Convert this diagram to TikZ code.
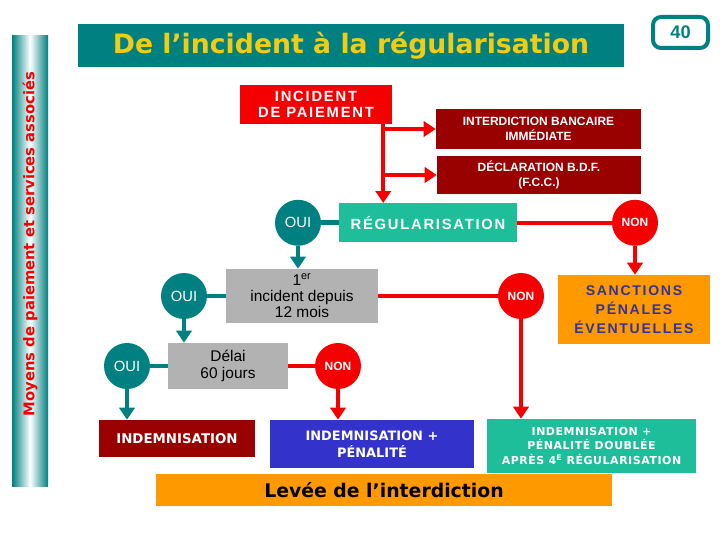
\documentclass[tikz,border=0pt]{standalone}
\usepackage{fontspec}
\setmainfont{Liberation Sans}
\newfontfamily\verd{DejaVu Sans}
\newfontfamily\espace[LetterSpace=12]{Liberation Sans}
\usetikzlibrary{arrows.meta}
\definecolor{sarcelle}{RGB}{0,128,128}
\definecolor{jaune}{RGB}{240,204,20}
\definecolor{rouge}{RGB}{245,0,0}
\definecolor{rougefonce}{RGB}{153,0,0}
\definecolor{vertd}{RGB}{30,190,155}
\definecolor{ambre}{RGB}{255,153,0}
\definecolor{indigo}{RGB}{51,51,153}
\definecolor{bleu}{RGB}{51,51,204}
\definecolor{gris}{RGB}{178,178,178}
\begin{document}
\begin{tikzpicture}
\tikzset{
    >={Triangle[length=0.3cm,width=0.38cm]},
    boite/.style={rectangle, inner sep=0pt, align=center, text=white},
    rond/.style={circle, inner sep=0pt, minimum size=1.15cm, text=white},
    oui/.style={rond, fill=sarcelle, font=\fontsize{10.5}{12}\selectfont},
    non/.style={rond, fill=rouge, font=\bfseries\fontsize{8.5}{10}\selectfont},
    lienR/.style={line width=0.1cm, rouge},
    lienV/.style={line width=0.12cm, sarcelle}
}
\useasboundingbox (0,0) rectangle (18,13.5);
\shade[left color=sarcelle, right color=sarcelle, middle color=white] (0.3,1.325) rectangle (1.2,12.6);
\node[rotate=90, text=rouge, font=\verd\bfseries\fontsize{10.5}{12}\selectfont] (cote) at (0.75,7.4) {Moyens de paiement et services associés};
\node[boite, fill=sarcelle, minimum width=13.65cm, minimum height=1.075cm, text=jaune,
      font=\verd\bfseries\fontsize{19}{22}\selectfont] (titre) at (8.775,12.3625) {De l’incident à la régularisation};
\node[boite, draw=sarcelle, fill=white, line width=0.1cm, rounded corners=0.2cm, minimum width=1.375cm,
      minimum height=0.775cm, text=sarcelle, font=\bfseries\fontsize{13}{15}\selectfont] (page) at (17.0125,12.6875) {40};
\node[boite, fill=rouge, minimum width=3.8cm, minimum height=0.975cm,
      font=\espace\bfseries\fontsize{10.5}{11.5}\selectfont] (inc) at (7.9,10.8875) {INCIDENT\\DE PAIEMENT};
\node[boite, fill=rougefonce, minimum width=5.125cm, minimum height=1cm,
      font=\bfseries\fontsize{8.5}{10.5}\selectfont] (interd) at (13.4625,10.275) {INTERDICTION BANCAIRE\\IMMÉDIATE};
\node[boite, fill=rougefonce, minimum width=5.1cm, minimum height=0.95cm,
      font=\bfseries\fontsize{8.5}{10.5}\selectfont] (decl) at (13.475,9.125) {DÉCLARATION B.D.F.\\(F.C.C.)};
\node[boite, fill=vertd, minimum width=4.45cm, minimum height=0.975cm,
      font=\espace\bfseries\fontsize{10.5}{12}\selectfont] (regul) at (10.7,7.93) {RÉGULARISATION};
\node[oui] (oui1) at (7.45,7.93) {OUI};
\node[non] (non1) at (15.875,7.93) {NON};
\node[boite, fill=ambre, minimum width=3.8cm, minimum height=1.725cm, text=indigo,
      font=\espace\bfseries\fontsize{10}{13.5}\selectfont] (sanct) at (15.85,5.7625) {SANCTIONS\\PÉNALES\\ÉVENTUELLES};
\node[boite, fill=gris, minimum width=3.8cm, minimum height=1.35cm, text=black,
      font=\fontsize{11}{11.5}\selectfont] (prem) at (7.55,6.1) {1\textsuperscript{er}\\incident depuis\\12 mois};
\node[oui] (oui2) at (4.6,6.1) {OUI};
\node[non] (non2) at (13.025,6.1) {NON};
\node[boite, fill=gris, minimum width=3cm, minimum height=1.15cm, text=black,
      font=\fontsize{11}{12.5}\selectfont] (delai) at (5.7,4.35) {Délai\\60 jours};
\node[oui] (oui3) at (3.175,4.35) {OUI};
\node[non] (non3) at (8.45,4.35) {NON};
\node[boite, fill=rougefonce, minimum width=3.9cm, minimum height=0.925cm,
      font=\verd\bfseries\fontsize{9.5}{11}\selectfont] (indem) at (4.425,2.5375) {INDEMNISATION};
\node[boite, fill=bleu, minimum width=5.1cm, minimum height=1.2cm,
      font=\verd\bfseries\fontsize{9.2}{12}\selectfont] (indpen) at (9.3,2.4) {INDEMNISATION +\\PÉNALITÉ};
\node[boite, fill=vertd, minimum width=5.225cm, minimum height=1.35cm,
      font=\verd\bfseries\addfontfeature{LetterSpace=5}\fontsize{7.8}{10}\selectfont] (doub) at (14.7875,2.35)
      {INDEMNISATION +\\PÉNALITÉ DOUBLÉE\\APRÈS 4\textsuperscript{E} RÉGULARISATION};
\node[boite, fill=ambre, minimum width=11.4cm, minimum height=0.8cm, text=black,
      font=\verd\bfseries\fontsize{13.4}{15}\selectfont] (levee) at (9.6,1.25) {Levée de l’interdiction};
\draw[lienR, ->] ([xshift=-0.225cm]inc.south east) coordinate (t0) -- (t0 |- regul.north);
\draw[lienR, ->] (t0 |- interd.west) -- (interd.west);
\draw[lienR, ->] (t0 |- decl.west) -- (decl.west);
\draw[lienV] (oui1) -- (regul);
\draw[lienR] (regul) -- (non1);
\draw[lienR, ->] (non1) -- (non1 |- sanct.north);
\draw[lienV, ->] (oui1) -- (oui1 |- prem.north);
\draw[lienV] (oui2) -- (prem);
\draw[lienR] (prem) -- (non2);
\draw[lienV, ->] (oui2) -- (oui2 |- delai.north);
\draw[lienR, ->] (non2) -- (non2 |- doub.north);
\draw[lienV] (oui3) -- (delai);
\draw[lienR] (delai) -- (non3);
\draw[lienV, ->] (oui3) -- (oui3 |- indem.north);
\draw[lienR, ->] (non3) -- (non3 |- indpen.north);
\end{tikzpicture}
\end{document}
